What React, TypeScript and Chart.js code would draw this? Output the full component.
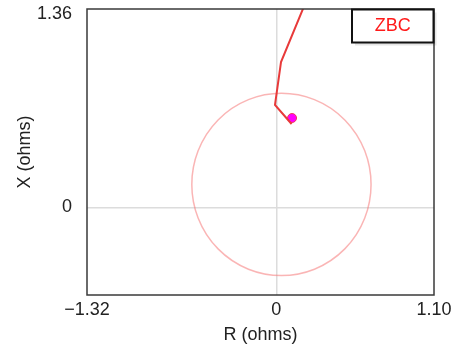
import React, { useEffect, useRef } from "react";
import { Chart, registerables } from "chart.js";

Chart.register(...registerables);

const X_MIN = -1.32;
const X_MAX = 1.1;
const Y_MIN = -0.6;
const Y_MAX = 1.36;

const trajR = [0.19, 0.033, -0.009, 0.107];
const trajX = [1.37, 0.996, 0.703, 0.572];

const markerR = [0.11];
const markerX = [0.613];

const circleCenter = [0.036, 0.158];
const circleRadius = 0.625;

const legendLabel = "ZBC";
const xTitle = "R (ohms)";
const yTitle = "X (ohms)";

const fmt = (v: number) => {
  if (Math.abs(v) < 1e-9) return "0";
  const s = Math.abs(v).toFixed(2);
  return v < 0 ? "\u2212" + s : s;
};

const FONT = "Arial, 'Liberation Sans', sans-serif";

export default function App() {
  const ref = useRef<HTMLCanvasElement | null>(null);

  useEffect(() => {
    document.body.style.margin = "0";
    const canvas = ref.current;
    if (!canvas) return;

    const circlePlugin = {
      id: "circlePlugin",
      beforeDatasetsDraw(chart: any) {
        const { ctx, scales, chartArea } = chart;
        const xs = scales.x;
        const ys = scales.y;
        const cx = xs.getPixelForValue(circleCenter[0]);
        const cy = ys.getPixelForValue(circleCenter[1]);
        const rx = Math.abs(xs.getPixelForValue(circleCenter[0] + circleRadius) - cx);
        const ry = Math.abs(ys.getPixelForValue(circleCenter[1] + circleRadius) - cy);
        ctx.save();
        ctx.beginPath();
        ctx.rect(chartArea.left, chartArea.top, chartArea.width, chartArea.height);
        ctx.clip();
        ctx.beginPath();
        ctx.ellipse(cx, cy, rx, ry, 0, 0, Math.PI * 2);
        ctx.strokeStyle = "rgba(245,120,120,0.55)";
        ctx.lineWidth = 1.5;
        ctx.stroke();
        ctx.restore();
      },
    };

    const framePlugin = {
      id: "framePlugin",
      afterDraw(chart: any) {
        const { ctx, chartArea } = chart;
        ctx.save();
        ctx.strokeStyle = "#3a3a3a";
        ctx.lineWidth = 1.5;
        ctx.strokeRect(chartArea.left, chartArea.top, chartArea.width, chartArea.height);
        // legend box
        const bx = chartArea.right - 82;
        const by = chartArea.top + 0.5;
        const bw = 81.5;
        const bh = 33;
        ctx.fillStyle = "rgba(0,0,0,0.10)";
        ctx.fillRect(bx + 3, by + 3, bw, bh);
        ctx.fillStyle = "#ffffff";
        ctx.fillRect(bx, by, bw, bh);
        ctx.strokeStyle = "#111";
        ctx.lineWidth = 2;
        ctx.strokeRect(bx, by, bw, bh);
        ctx.fillStyle = "#ff1a1a";
        ctx.font = `18px ${FONT}`;
        ctx.textAlign = "center";
        ctx.textBaseline = "middle";
        ctx.fillText(legendLabel, bx + bw / 2, by + bh / 2);
        ctx.restore();
      },
    };

    const isTop = (c: any) => c && c.tick && Math.abs(c.tick.value - Y_MAX) < 1e-9;

    const chart = new Chart(canvas, {
      type: "scatter",
      data: {
        datasets: [
          {
            data: trajR.map((r, i) => ({ x: r, y: trajX[i] })),
            showLine: true,
            borderColor: "#e83a3a",
            borderWidth: 2,
            pointRadius: 0,
            tension: 0,
          },
          {
            data: markerR.map((r, i) => ({ x: r, y: markerX[i] })),
            pointRadius: 4.5,
            pointBackgroundColor: "#ff00ff",
            pointBorderColor: "#f03a5a",
            pointBorderWidth: 1,
          },
        ],
      },
      options: {
        responsive: false,
        animation: false,
        layout: { padding: { top: 9, right: 17, left: 0, bottom: 0 } },
        plugins: {
          legend: { display: false },
          tooltip: { enabled: false },
        },
        scales: {
          x: {
            type: "linear",
            min: X_MIN,
            max: X_MAX,
            afterBuildTicks: (s: any) => {
              s.ticks = [{ value: X_MIN }, { value: 0 }, { value: X_MAX }];
            },
            afterFit: (s: any) => {
              s.height = 51;
              s.paddingLeft = 0;
              s.paddingRight = 0;
            },
            ticks: {
              autoSkip: false,
              maxRotation: 0,
              color: "#222",
              font: { size: 18, family: FONT },
              padding: 4,
              callback: (v: any) => fmt(Number(v)),
            },
            grid: {
              drawTicks: false,
              color: (c: any) => (c.tick && Math.abs(c.tick.value) < 1e-9 ? "#dcdcdc" : "rgba(0,0,0,0)"),
              lineWidth: 1.5,
            },
            border: { display: false },
            title: {
              display: true,
              text: xTitle,
              color: "#222",
              font: { size: 18, family: FONT },
              padding: { top: 0, bottom: 0 },
            },
          },
          y: {
            type: "linear",
            min: Y_MIN,
            max: Y_MAX,
            afterBuildTicks: (s: any) => {
              s.ticks = [{ value: 0 }, { value: Y_MAX }];
            },
            afterFit: (s: any) => {
              s.width = 87;
              s.paddingTop = 0;
              s.paddingBottom = 0;
            },
            ticks: {
              autoSkip: false,
              color: "#222",
              font: (c: any) =>
                isTop(c)
                  ? { size: 18, family: FONT, lineHeight: 0.55 }
                  : { size: 18, family: FONT },
              padding: 15,
              callback: (v: any) => {
                const n = Number(v);
                return Math.abs(n - Y_MAX) < 1e-9 ? ["", fmt(n)] : fmt(n);
              },
            },
            grid: {
              drawTicks: false,
              color: (c: any) => (c.tick && Math.abs(c.tick.value) < 1e-9 ? "#dcdcdc" : "rgba(0,0,0,0)"),
              lineWidth: 1.5,
            },
            border: { display: false },
            title: {
              display: true,
              text: yTitle,
              color: "#222",
              font: { size: 18, family: FONT },
              padding: { top: 14, bottom: 0 },
            },
          },
        },
      },
      plugins: [circlePlugin, framePlugin],
    });

    return () => chart.destroy();
  }, []);

  return (
    <div style={{ width: 451, height: 346, background: "#fff" }}>
      <canvas ref={ref} width={451} height={346} style={{ display: "block" }} />
    </div>
  );
}
